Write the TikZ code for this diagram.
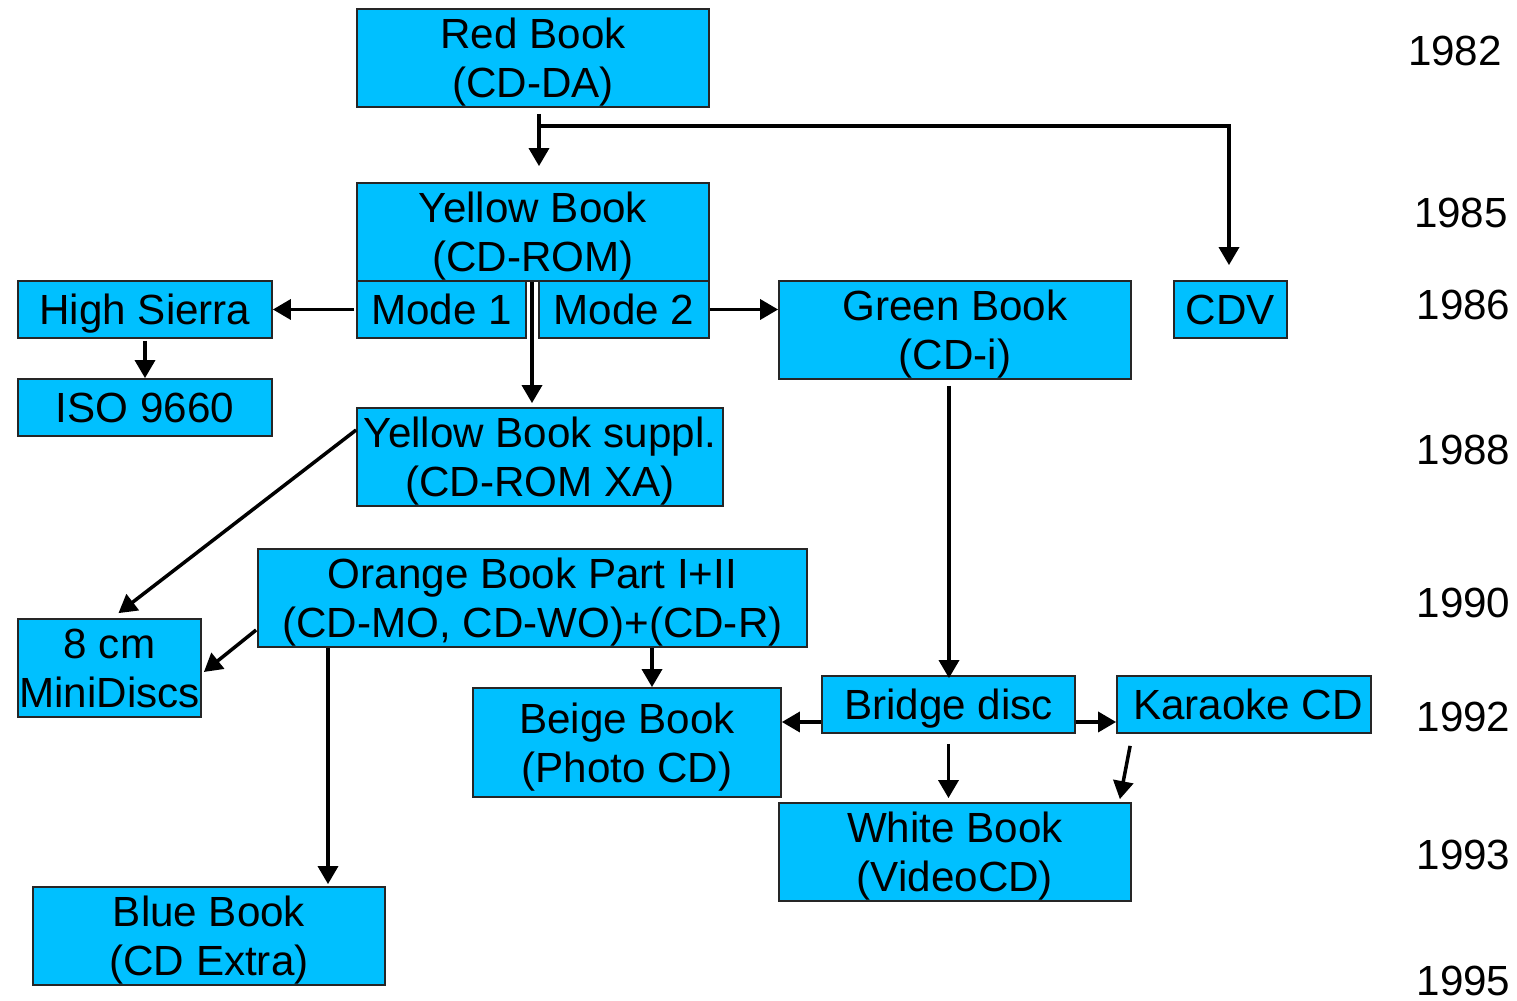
\documentclass[tikz,border=0pt]{standalone}
\usepackage{fontspec}
\setmainfont{Liberation Sans}
\usepackage{tikz}
\usetikzlibrary{arrows.meta}
\definecolor{cdblue}{RGB}{0,192,255}
\tikzset{
	book/.style={draw=black!85, line width=0.5pt, fill=cdblue, align=center, inner sep=0pt,
		text depth=0pt, font=\fontsize{12}{13.9}\selectfont},
	year/.style={inner sep=0pt, font=\fontsize{12}{13.9}\selectfont},
	arr/.style={line width=1pt, -{Triangle[length=0.18cm,width=0.2cm]}}
}

\begin{document}
\begin{tikzpicture}
			%%%%% START %%%%%
			
			\useasboundingbox (0, 0) rectangle (15.17, 10.01);
			
			\node[book, minimum width=3.52cm, minimum height=0.98cm] (red) at (5.33, 9.43) {Red Book\\(CD-DA)};
			\node[book, minimum width=3.52cm, minimum height=0.98cm] (yellow) at (5.33, 7.69) {Yellow Book\\(CD-ROM)};
			\node[book, minimum width=1.69cm, minimum height=0.57cm] (mode1) at (4.415, 6.915) {Mode 1};
			\node[book, minimum width=1.70cm, minimum height=0.57cm] (mode2) at (6.24, 6.915) {Mode 2};
			\node[book, minimum width=2.54cm, minimum height=0.57cm] (high) at (1.45, 6.915) {High Sierra};
			\node[book, minimum width=2.54cm, minimum height=0.57cm] (iso) at (1.45, 5.935) {ISO 9660};
			\node[book, minimum width=3.52cm, minimum height=0.98cm] (green) at (9.55, 6.71) {Green Book\\(CD-i)};
			\node[book, minimum width=1.13cm, minimum height=0.57cm] (cdv) at (12.305, 6.915) {CDV};
			\node[book, minimum width=3.66cm, minimum height=0.98cm] (suppl) at (5.40, 5.44) {Yellow Book suppl.\\(CD-ROM XA)};
			\node[book, minimum width=5.49cm, minimum height=0.98cm] (orange) at (5.325, 4.03) {Orange Book Part I+II\\(CD-MO, CD-WO)+(CD-R)};
			\node[book, minimum width=1.83cm, minimum height=0.98cm] (mini) at (1.095, 3.33) {8 cm\\MiniDiscs};
			\node[book, minimum width=3.08cm, minimum height=1.09cm] (beige) at (6.27, 2.585) {Beige Book\\(Photo CD)};
			\node[book, minimum width=2.53cm, minimum height=0.57cm] (bridge) at (9.485, 2.965) {Bridge disc};
			\node[book, minimum width=2.54cm, minimum height=0.57cm] (karaoke) at (12.44, 2.965) {\hspace{0.08cm}Karaoke CD};
			\node[book, minimum width=3.52cm, minimum height=0.98cm] (white) at (9.55, 1.49) {White Book\\(VideoCD)};
			\node[book, minimum width=3.52cm, minimum height=0.98cm] (blue) at (2.09, 0.65) {Blue Book\\(CD Extra)};
			
			\node[year] (y82) at (14.55, 9.50) {1982};
			\node[year] (y85) at (14.61, 7.88) {1985};
			\node[year] (y86) at (14.635, 6.96) {1986};
			\node[year] (y88) at (14.635, 5.51) {1988};
			\node[year] (y90) at (14.635, 3.98) {1990};
			\node[year] (y92) at (14.635, 2.84) {1992};
			\node[year] (y93) at (14.635, 1.46) {1993};
			\node[year] (y95) at (14.635, 0.20) {1995};
			
			\draw[arr] ([xshift=0.06cm, yshift=-0.06cm]red.south) -- ([xshift=0.06cm, yshift=0.16cm]yellow.north);
			\draw[arr] ([xshift=0.06cm, yshift=-0.18cm]red.south) -| ([xshift=-0.015cm, yshift=0.15cm]cdv.north);
			\draw[arr] ([xshift=-0.02cm]mode1.west) -- (high.east);
			\draw[arr] ([yshift=-0.02cm]high.south) -- (iso.north);
			\draw[arr] (mode2.east) -- (mode2.east -| green.west);
			\draw[arr] ([xshift=-0.01cm]yellow.south) -- ([xshift=-0.01cm, yshift=0.04cm]yellow.south |- suppl.north);
			\draw[arr] ([yshift=0.27cm]suppl.west) -- ([xshift=0.09cm, yshift=0.05cm]mini.north);
			\draw[arr] ([xshift=-0.01cm, yshift=-0.32cm]orange.west) -- ([xshift=0.02cm, yshift=-0.04cm]mini.east);
			\draw[arr] ([xshift=-2.045cm]orange.south) -- ([xshift=-2.045cm, yshift=0.02cm]orange.south |- blue.north);
			\draw[arr] ([xshift=1.195cm]orange.south) -- ([xshift=1.195cm]orange.south |- beige.north);
			\draw[arr] ([xshift=-0.06cm, yshift=-0.06cm]green.south) -- ([xshift=-0.06cm, yshift=-0.03cm]green.south |- bridge.north);
			\draw[arr] ([yshift=-0.175cm]bridge.west) -- ([yshift=-0.175cm]bridge.west -| beige.east);
			\draw[arr] ([yshift=-0.175cm]bridge.east) -- ([yshift=-0.175cm]bridge.east -| karaoke.west);
			\draw[arr] ([yshift=-0.1cm]bridge.south) -- ([yshift=0.04cm]bridge.south |- white.north);
			\draw[arr] ([xshift=0.14cm, yshift=-0.12cm]karaoke.south west) -- ([xshift=-0.12cm, yshift=0.03cm]white.north east);
			
			%%%%% END %%%%%
\end{tikzpicture}
\end{document}
